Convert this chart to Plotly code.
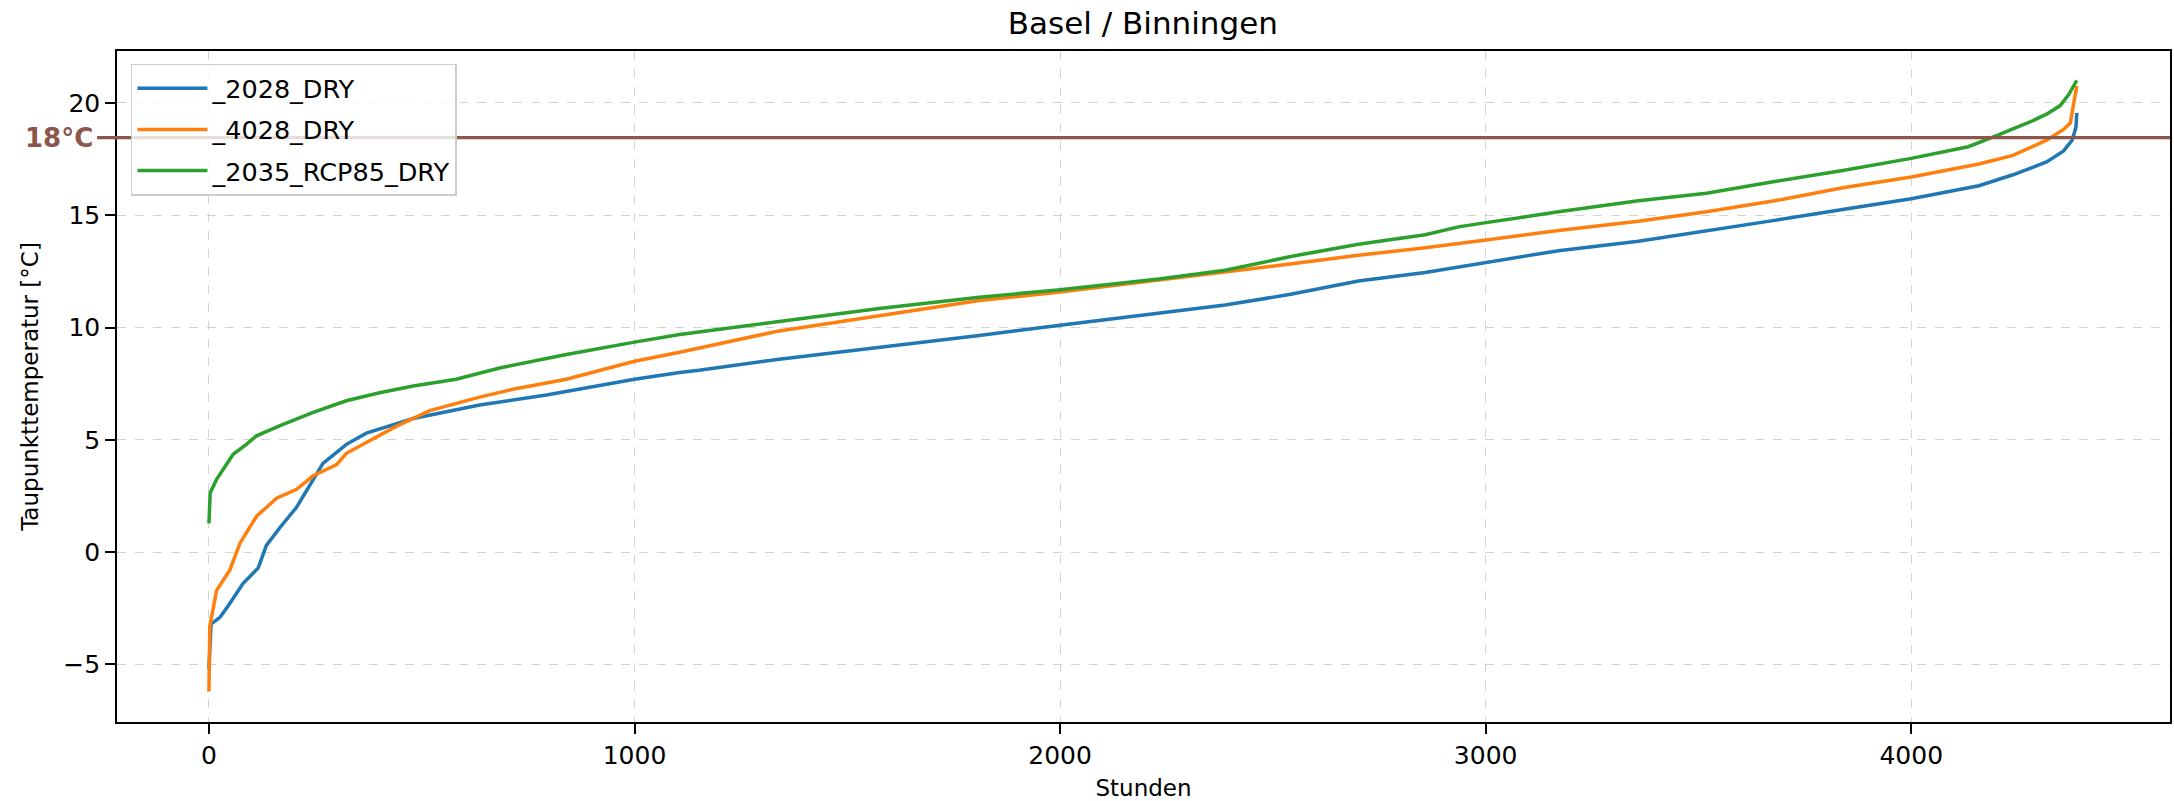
import plotly.graph_objects as go

# ---------------- data ----------------
series_names = ["_2028_DRY", "_4028_DRY", "_2035_RCP85_DRY"]
series_colors = ["#1f77b4", "#ff7f0e", "#2ca02c"]

hours_2028 = [0, 3, 5, 26, 45, 80, 116, 135, 167, 206, 245, 268, 323, 370, 480, 636, 793,
              1000, 1106, 1152, 1340, 1575, 1810, 2000, 2232, 2388, 2545, 2701, 2858, 3001,
              3171, 3359, 3519, 3679, 3839, 4000, 4159, 4239, 4318, 4358, 4378, 4387, 4389]
temp_2028 = [-5.2, -4.2, -3.2, -2.9, -2.4, -1.4, -0.7, 0.3, 1.1, 2.0, 3.2, 3.95, 4.8, 5.3, 5.95,
             6.55, 7.0, 7.7, 8.0, 8.1, 8.59, 9.11, 9.65, 10.1, 10.66, 11.0, 11.49, 12.07, 12.45,
             12.88, 13.42, 13.84, 14.29, 14.77, 15.25, 15.73, 16.31, 16.8, 17.37, 17.86, 18.34,
             18.92, 19.55]

hours_4028 = [0, 2, 18, 49, 73, 112, 159, 206, 245, 300, 323, 370, 440, 519, 636, 714, 840,
              1000, 1106, 1340, 1575, 1810, 2000, 2232, 2388, 2545, 2701, 2858, 3001, 3171,
              3359, 3519, 3679, 3839, 4000, 4159, 4239, 4318, 4358, 4374, 4382, 4389]
temp_4028 = [-6.2, -3.3, -1.7, -0.8, 0.4, 1.6, 2.4, 2.8, 3.4, 3.9, 4.4, 4.9, 5.6, 6.3, 6.9,
             7.25, 7.7, 8.5, 8.9, 9.85, 10.52, 11.2, 11.58, 12.12, 12.45, 12.84, 13.22, 13.55,
             13.9, 14.32, 14.73, 15.15, 15.64, 16.22, 16.7, 17.28, 17.66, 18.34, 18.82, 19.11,
             20.0, 20.75]

hours_2035 = [0, 3, 18, 34, 57, 88, 112, 167, 245, 323, 401, 480, 581, 683, 840, 1000, 1106,
              1340, 1575, 1810, 2000, 2232, 2388, 2545, 2701, 2858, 2936, 3001, 3171, 3359,
              3519, 3679, 3839, 4000, 4134, 4199, 4279, 4318, 4350, 4370, 4389]
temp_2035 = [1.28, 2.65, 3.24, 3.7, 4.36, 4.8, 5.18, 5.63, 6.22, 6.74, 7.1, 7.4, 7.7, 8.2, 8.8,
             9.35, 9.69, 10.27, 10.85, 11.35, 11.68, 12.16, 12.55, 13.17, 13.71, 14.13, 14.48,
             14.67, 15.15, 15.64, 15.98, 16.5, 16.99, 17.53, 18.05, 18.53, 19.15, 19.5, 19.88,
             20.37, 21.0]

threshold_value = 18.45
threshold_label = "18°C"
x_tick_vals = [0, 1000, 2000, 3000, 4000]
y_tick_vals = [-5, 0, 5, 10, 15, 20]

# ---------------- figure ----------------
FONT = "DejaVu Sans"
fig = go.Figure()
all_x = [hours_2028, hours_4028, hours_2035]
all_y = [temp_2028, temp_4028, temp_2035]
for i, (name, color, xs, ys) in enumerate(zip(series_names, series_colors, all_x, all_y)):
    fig.add_trace(go.Scatter(x=xs, y=ys, mode="lines", name=name, legendgroup=f"g{i}",
                             line=dict(color=color, width=3.5)))

fig.add_shape(type="line", xref="paper", yref="y", x0=-0.0097, x1=1,
              y0=threshold_value, y1=threshold_value,
              line=dict(color="#8c564b", width=3.3), layer="above")
fig.add_annotation(text=f"<b>{threshold_label}</b>", xref="paper", yref="y",
                   x=-0.0105, y=threshold_value, xanchor="right", yanchor="middle",
                   showarrow=False, font=dict(family=FONT, size=26, color="#8c564b"))

axis_common = dict(
    showline=True, mirror=True, linecolor="black", linewidth=1.6,
    ticks="outside", ticklen=10, tickwidth=1.5, tickcolor="black",
    showgrid=True, gridcolor="rgba(160,160,160,0.45)", griddash="dash", gridwidth=1,
    zeroline=False, tickfont=dict(family=FONT, size=25, color="black"),
)

fig.update_layout(
    width=2174, height=801,
    margin=dict(l=117, r=2, t=51, b=79),
    plot_bgcolor="white", paper_bgcolor="white",
    font=dict(family=FONT, color="black"),
    title=dict(text="Basel / Binningen", x=0.5257, xanchor="center",
               yref="container", y=1 - 23 / 801, yanchor="middle",
               font=dict(family=FONT, size=31, color="black")),
    xaxis=dict(range=[-216, 4608], tickvals=x_tick_vals,
               title=dict(text="Stunden", font=dict(family=FONT, size=23), standoff=12),
               **axis_common),
    yaxis=dict(range=[-7.56, 22.31], tickvals=y_tick_vals,
               title=dict(text="Taupunkttemperatur [°C]", font=dict(family=FONT, size=23), standoff=18),
               **axis_common),
    legend=dict(x=0.0068, y=0.981, xanchor="left", yanchor="top",
                bgcolor="rgba(255,255,255,0.8)", bordercolor="#cccccc", borderwidth=1.5,
                font=dict(family=FONT, size=25.5, color="black"), tracegroupgap=5,
                itemwidth=70),
    showlegend=True,
)

fig.write_html("out.html")
